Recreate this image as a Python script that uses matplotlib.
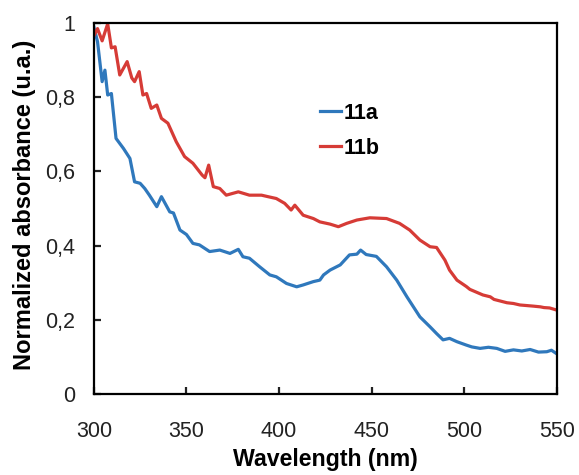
import matplotlib
matplotlib.use('Agg')
import matplotlib.pyplot as plt

# Espectros normalizados
wl_a = [300, 302, 304.5, 306, 307.5, 309.5, 312, 316, 319.5, 322, 325, 327.5, 330, 334,
        336.5, 341, 343, 346.5, 350, 353.5, 357, 362.5, 368, 373.5, 378, 380.5, 384,
        389.5, 395, 398.5, 404, 409.5, 413, 418.5, 422, 424, 427.5, 433, 438, 442, 444,
        447, 452.5, 458, 463.5, 469, 476, 481.5, 485, 488.5, 492, 496, 501, 504, 508.5,
        513, 517.5, 522, 526.5, 531, 535.5, 540, 544.5, 547, 550]
abs_a = [0.99, 0.95, 0.842, 0.873, 0.806, 0.81, 0.689, 0.662, 0.635, 0.572, 0.568, 0.554,
         0.536, 0.505, 0.532, 0.491, 0.488, 0.442, 0.43, 0.406, 0.402, 0.384, 0.388, 0.379,
         0.39, 0.37, 0.366, 0.343, 0.321, 0.316, 0.298, 0.289, 0.294, 0.303, 0.307, 0.321,
         0.334, 0.348, 0.375, 0.377, 0.388, 0.376, 0.371, 0.343, 0.307, 0.262, 0.208, 0.181,
         0.163, 0.146, 0.15, 0.141, 0.132, 0.127, 0.123, 0.126, 0.123, 0.115, 0.119, 0.116,
         0.12, 0.113, 0.114, 0.118, 0.108]

wl_b = [300, 302, 304.5, 307.5, 309.5, 311.5, 314, 318, 320.5, 322, 324.5, 326.5, 328.5,
        331, 334, 336.5, 340, 344.5, 349, 353.5, 358.5, 360, 362, 364.5, 368, 371.5, 378,
        384, 390.5, 394, 398.5, 403, 406.5, 408.5, 413, 418.5, 422, 427.5, 432, 436.5, 442,
        449, 458, 465, 470.5, 476, 481.5, 485, 489.5, 492, 496, 501, 503, 510, 514, 516,
        523, 526.5, 530, 537, 541, 543, 546, 550]
abs_b = [0.965, 0.985, 0.952, 0.998, 0.933, 0.936, 0.86, 0.896, 0.852, 0.842, 0.869, 0.806,
         0.81, 0.77, 0.779, 0.743, 0.73, 0.68, 0.64, 0.622, 0.59, 0.583, 0.617, 0.559, 0.554,
         0.536, 0.545, 0.536, 0.536, 0.532, 0.527, 0.514, 0.496, 0.509, 0.482, 0.473, 0.464,
         0.458, 0.451, 0.46, 0.469, 0.475, 0.473, 0.46, 0.442, 0.415, 0.397, 0.395, 0.361,
         0.334, 0.307, 0.29, 0.282, 0.267, 0.262, 0.255, 0.246, 0.244, 0.24, 0.237, 0.235,
         0.233, 0.232, 0.226]

x_ticks = [300, 350, 400, 450, 500, 550]
y_ticks = [0, 0.2, 0.4, 0.6, 0.8, 1]
y_labels = ['0', '0,2', '0,4', '0,6', '0,8', '1']

plt.rcParams['font.family'] = ['Liberation Sans', 'DejaVu Sans']

fig = plt.figure(figsize=(5.79, 4.75), dpi=100)
ax = fig.add_axes([0.162, 0.1705, 0.800, 0.781])

ax.plot(wl_a, abs_a, color='#2f78bc', linewidth=2.3, label='11a')
ax.plot(wl_b, abs_b, color='#d63b36', linewidth=2.3, label='11b')

ax.set_xlim(300, 550)
ax.set_ylim(0, 1)
ax.set_xticks(x_ticks)
ax.set_yticks(y_ticks)
ax.set_yticklabels(y_labels)
ax.tick_params(direction='in', length=5, width=1.6, labelsize=15.5, colors='#222222')
ax.tick_params(axis='x', pad=19.5)
ax.tick_params(axis='y', pad=13.5)
for s in ax.spines.values():
    s.set_linewidth(1.6)

ax.set_xlabel('Wavelength (nm)', fontsize=16.7, fontweight='bold', labelpad=4)
ax.set_ylabel('Normalized absorbance (u.a.)', fontsize=17, fontweight='bold')
ax.yaxis.set_label_coords(-0.125, 0.509)

ax.legend(loc='center left', bbox_to_anchor=(0.488, 0.71), frameon=False,
          prop={'weight': 'bold', 'size': 15.5}, handlelength=1.0, handletextpad=0.1,
          labelspacing=0.66, borderpad=0, borderaxespad=0)

fig.savefig('out.png', dpi=100)
